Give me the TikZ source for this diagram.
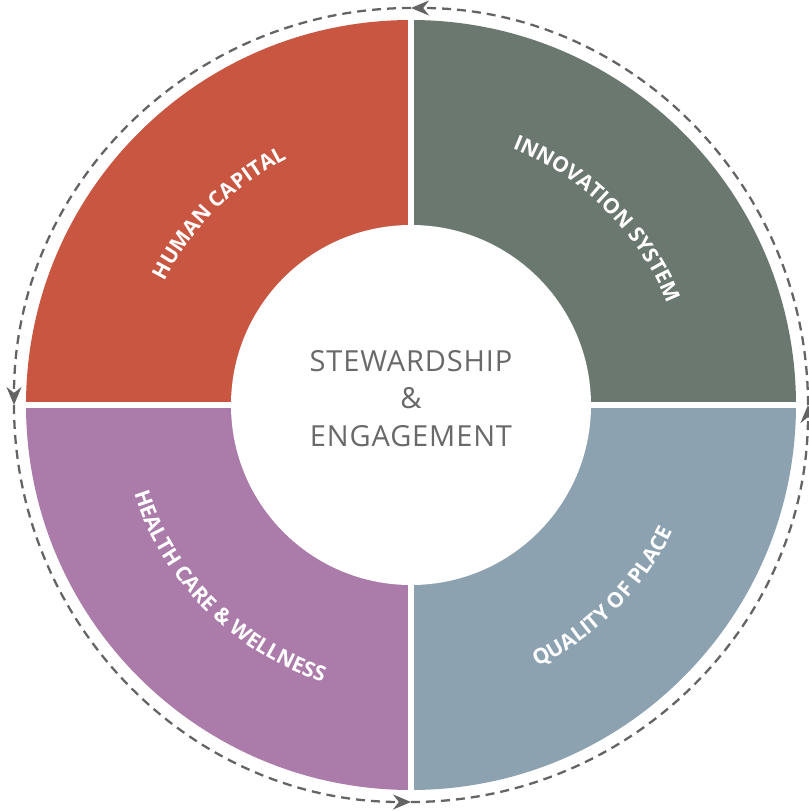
\documentclass[tikz,border=0pt]{standalone}
\usepackage{fontspec}
\setmainfont{Open Sans}
\newfontfamily\centerfont[LetterSpace=3]{Open Sans}
\usepackage{tikz}
\usetikzlibrary{decorations.text,arrows.meta}

\definecolor{capred}{RGB}{200,86,64}
\definecolor{innogreen}{RGB}{106,120,111}
\definecolor{healthpurple}{RGB}{171,123,170}
\definecolor{placeblue}{RGB}{141,162,176}
\definecolor{centergray}{RGB}{105,105,105}
\definecolor{loopgray}{RGB}{100,100,100}

\newcommand{\ringfont}{\bfseries\fontsize{12}{14}\selectfont\color{white}}

\begin{document}
\begin{tikzpicture}[
    ringlabel/.style={decorate, decoration={text along path, text align=center, text={#1}}},
    looparc/.style={draw=loopgray, line width=1.3pt, dash pattern=on 0.18cm off 0.12cm, -{Stealth[length=0.36cm, width=0.3cm]}}]
    \useasboundingbox (-8.22,-8.12) rectangle (7.94,8.10);

    \fill[capred] (0,0) -- (180:7.7) arc[start angle=180, end angle=90, radius=7.7] -- cycle;
    \fill[innogreen] (0,0) -- (90:7.7) arc[start angle=90, end angle=0, radius=7.7] -- cycle;
    \fill[healthpurple] (0,0) -- (180:7.7) arc[start angle=180, end angle=270, radius=7.7] -- cycle;
    \fill[placeblue] (0,0) -- (270:7.7) arc[start angle=270, end angle=360, radius=7.7] -- cycle;

    \draw[white, line width=0.11cm] (-7.8,0) -- (7.8,0);
    \draw[white, line width=0.11cm] (0,-7.8) -- (0,7.8);
    \fill[white] (0,0) circle (3.6);

    \path[ringlabel={|\ringfont|HUMAN CAPITAL}] (180:5.51) arc[start angle=180, end angle=90, radius=5.51];
    \path[ringlabel={|\ringfont|INNOVATION SYSTEM}] (90:5.51) arc[start angle=90, end angle=0, radius=5.51];
    \path[ringlabel={|\ringfont|HEALTH CARE {\&} WELLNESS}] (180:5.81) arc[start angle=180, end angle=270, radius=5.81];
    \path[ringlabel={|\ringfont|QUALITY OF PLACE}] (270:5.81) arc[start angle=270, end angle=360, radius=5.81];

    \node[align=center, text=centergray, font=\centerfont\fontsize{16.5}{21.3}\selectfont] (center) at (0,0.13) {STEWARDSHIP\\\&\\ENGAGEMENT};

    \draw[looparc] (0:7.94) arc[start angle=0, end angle=90, radius=7.94];
    \draw[looparc] (90:7.94) arc[start angle=90, end angle=180, radius=7.94];
    \draw[looparc] (180:7.94) arc[start angle=180, end angle=270, radius=7.94];
    \draw[looparc] (270:7.94) arc[start angle=270, end angle=360, radius=7.94];
\end{tikzpicture}
\end{document}
